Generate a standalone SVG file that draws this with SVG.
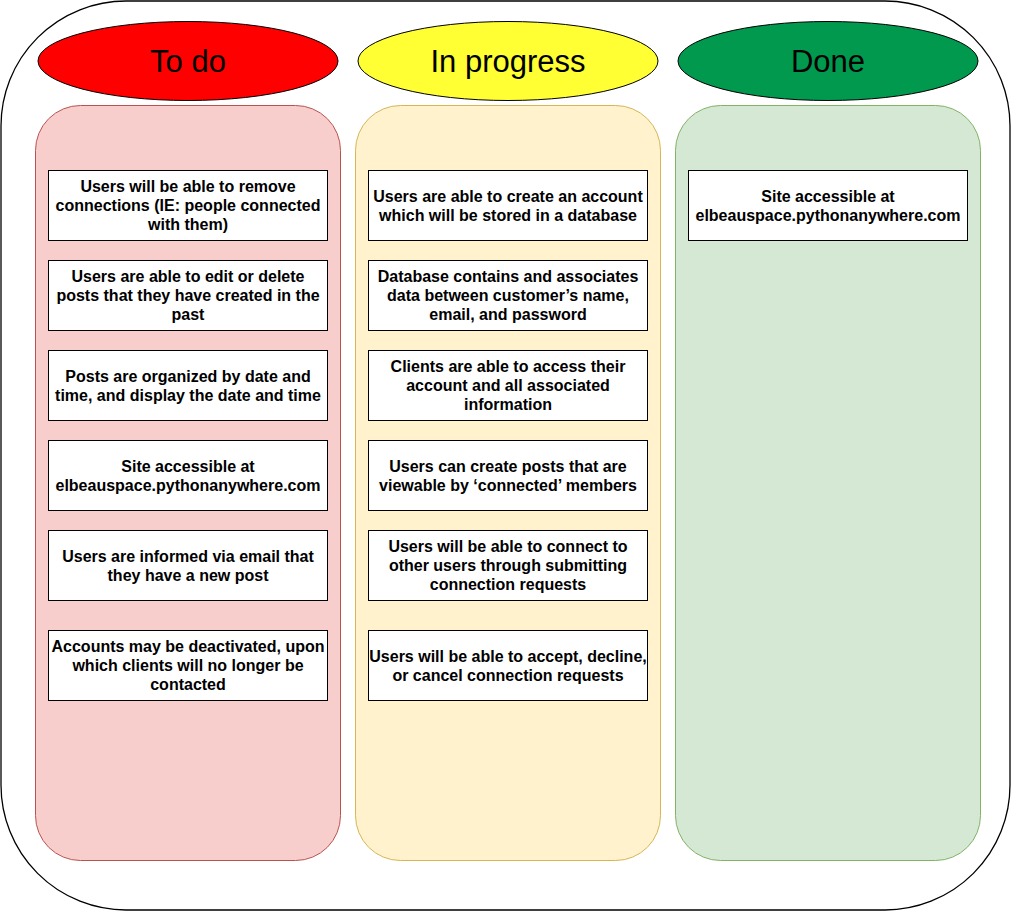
<svg xmlns="http://www.w3.org/2000/svg" width="1012" height="912" viewBox="0 0 1012 912">
<style>
.card{fill:#ffffff;stroke:#000000;stroke-width:1}
.ct{font-family:"Liberation Sans",Arial,sans-serif;font-size:16px;font-weight:bold;fill:#000;text-anchor:middle}
.tt{font-family:"Liberation Sans",Arial,sans-serif;font-size:31px;fill:#000;text-anchor:middle}
.hd{stroke:#000;stroke-width:1}
</style>
<rect id="frame" x="1" y="1" width="1009" height="909" rx="125" ry="125" fill="#ffffff" stroke="#000" stroke-width="1.3"/>
<g id="todo-col">
<rect x="35.5" y="105.5" width="305" height="755" rx="45" ry="45" fill="#f8cecc" stroke="#b85450"/>
<ellipse cx="188" cy="61" rx="150" ry="39.5" fill="#ff0000" class="hd"/>
<text class="tt" x="188" y="72">To do</text>
</g>
<g id="progress-col">
<rect x="355.5" y="105.5" width="305" height="755" rx="45" ry="45" fill="#fff2cc" stroke="#d6b656"/>
<ellipse cx="508" cy="61" rx="150" ry="39.5" fill="#ffff33" class="hd"/>
<text class="tt" x="508" y="72">In progress</text>
</g>
<g id="done-col">
<rect x="675.5" y="105.5" width="305" height="755" rx="45" ry="45" fill="#d5e8d4" stroke="#82b366"/>
<ellipse cx="828" cy="61" rx="150" ry="39.5" fill="#00994d" class="hd"/>
<text class="tt" x="828" y="72">Done</text>
</g>
<g id="t1"><rect class="card" x="48.5" y="170.5" width="279" height="70"/><text class="ct" x="188"><tspan x="188" y="192">Users will be able to remove</tspan><tspan x="188" y="211">connections (IE: people connected</tspan><tspan x="188" y="230">with them)</tspan></text></g>
<g id="t2"><rect class="card" x="48.5" y="260.5" width="279" height="70"/><text class="ct"><tspan x="188" y="282">Users are able to edit or delete</tspan><tspan x="188" y="301">posts that they have created in the</tspan><tspan x="188" y="320">past</tspan></text></g>
<g id="t3"><rect class="card" x="48.5" y="350.5" width="279" height="70"/><text class="ct"><tspan x="188" y="382">Posts are organized by date and</tspan><tspan x="188" y="401">time, and display the date and time</tspan></text></g>
<g id="t4"><rect class="card" x="48.5" y="440.5" width="279" height="70"/><text class="ct"><tspan x="188" y="472">Site accessible at</tspan><tspan x="188" y="491">elbeauspace.pythonanywhere.com</tspan></text></g>
<g id="t5"><rect class="card" x="48.5" y="530.5" width="279" height="70"/><text class="ct"><tspan x="188" y="562">Users are informed via email that</tspan><tspan x="188" y="581">they have a new post</tspan></text></g>
<g id="t6"><rect class="card" x="48.5" y="630.5" width="279" height="70"/><text class="ct"><tspan x="188" y="652">Accounts may be deactivated, upon</tspan><tspan x="188" y="671">which clients will no longer be</tspan><tspan x="188" y="690">contacted</tspan></text></g>
<g id="p1"><rect class="card" x="368.5" y="170.5" width="279" height="70"/><text class="ct"><tspan x="508" y="202">Users are able to create an account</tspan><tspan x="508" y="221">which will be stored in a database</tspan></text></g>
<g id="p2"><rect class="card" x="368.5" y="260.5" width="279" height="70"/><text class="ct"><tspan x="508" y="282">Database contains and associates</tspan><tspan x="508" y="301">data between customer’s name,</tspan><tspan x="508" y="320">email, and password</tspan></text></g>
<g id="p3"><rect class="card" x="368.5" y="350.5" width="279" height="70"/><text class="ct"><tspan x="508" y="372">Clients are able to access their</tspan><tspan x="508" y="391">account and all associated</tspan><tspan x="508" y="410">information</tspan></text></g>
<g id="p4"><rect class="card" x="368.5" y="440.5" width="279" height="70"/><text class="ct"><tspan x="508" y="472">Users can create posts that are</tspan><tspan x="508" y="491">viewable by ‘connected’ members</tspan></text></g>
<g id="p5"><rect class="card" x="368.5" y="530.5" width="279" height="70"/><text class="ct"><tspan x="508" y="552">Users will be able to connect to</tspan><tspan x="508" y="571">other users through submitting</tspan><tspan x="508" y="590">connection requests</tspan></text></g>
<g id="p6"><rect class="card" x="368.5" y="630.5" width="279" height="70"/><text class="ct"><tspan x="508" y="662">Users will be able to accept, decline,</tspan><tspan x="508" y="681">or cancel connection requests</tspan></text></g>
<g id="d1"><rect class="card" x="688.5" y="170.5" width="279" height="70"/><text class="ct"><tspan x="828" y="202">Site accessible at</tspan><tspan x="828" y="221">elbeauspace.pythonanywhere.com</tspan></text></g>
<g id="connectors"></g>
</svg>
